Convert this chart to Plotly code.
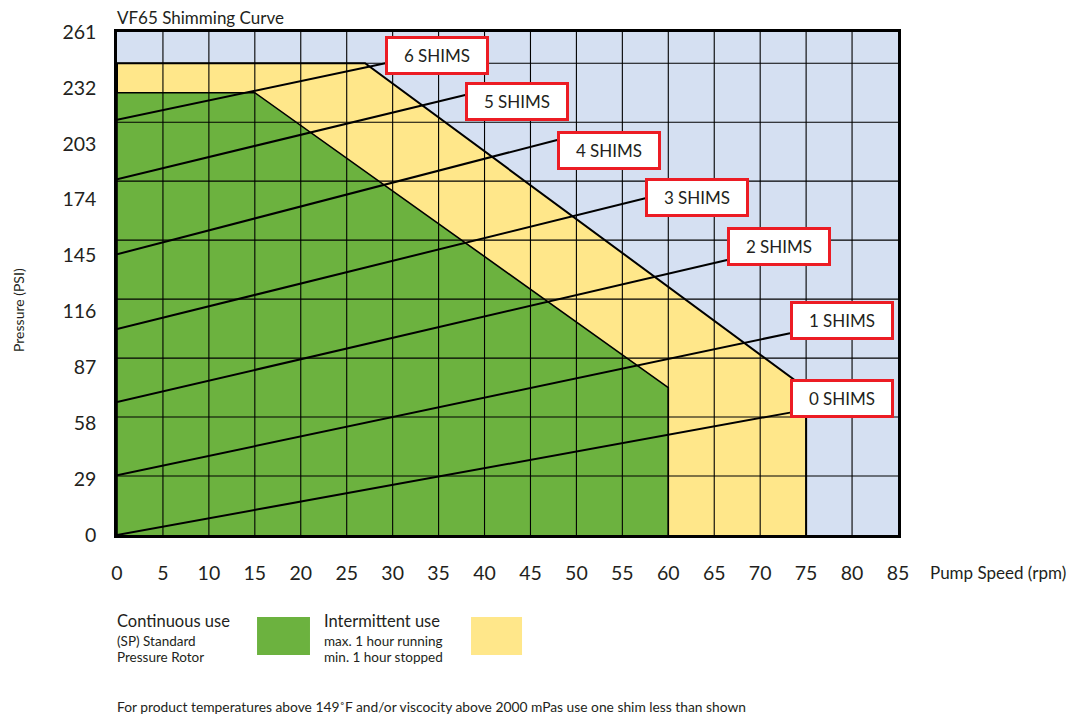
import plotly.graph_objects as go

# ---------------- data ----------------
x_ticks = [0, 5, 10, 15, 20, 25, 30, 35, 40, 45, 50, 55, 60, 65, 70, 75, 80, 85]
y_ticks = [0, 29, 58, 87, 116, 145, 174, 203, 232, 261]

# Continuous use (green) region outline: rpm / psi
green_rpm = [0, 0, 15, 60, 60]
green_psi = [0, 229.5, 229.5, 76.5, 0]

# Intermittent use (yellow) region outline
yellow_rpm = [0, 0, 27, 75, 75]
yellow_psi = [0, 244.8, 244.8, 76, 0]

# Shim lines: start pressure at 0 rpm and end point at label
shim_names = ["0 SHIMS", "1 SHIMS", "2 SHIMS", "3 SHIMS", "4 SHIMS", "5 SHIMS", "6 SHIMS"]
shim_start_psi = [0, 31.0, 69.0, 106.9, 145.7, 184.6, 215.4]
shim_end_rpm = [73.25, 73.25, 66.4, 57.5, 47.9, 37.9, 29.2]
shim_end_psi = [63.5, 104.7, 142.7, 174.7, 205.0, 228.3, 244.8]

# label box anchor positions (left edge x, centre y)
label_x = [73.25, 73.25, 66.4, 57.5, 47.9, 37.9, 29.2]
label_y = [70.9, 111.1, 149.7, 174.9, 199.5, 225.0, 248.7]

# ---------------- styles ----------------
FONT = "Lato"
TXT = "#231F20"
BLUE = "#D5E0F2"
GREEN = "#6CB23F"
YELLOW = "#FFE78A"
RED = "#EC1C24"
GRID_Y_STEP = 30.6
X_MAX, Y_MAX = 85, 261

fig = go.Figure()

# yellow region
fig.add_trace(go.Scatter(x=yellow_rpm, y=yellow_psi, fill="toself", fillcolor=YELLOW,
                         mode="lines", line=dict(color="black", width=2),
                         hoverinfo="skip", showlegend=False))
# green region
fig.add_trace(go.Scatter(x=green_rpm, y=green_psi, fill="toself", fillcolor=GREEN,
                         mode="lines", line=dict(color="black", width=1.6),
                         hoverinfo="skip", showlegend=False))

# grid lines drawn above the fills
shapes = []
for xv in x_ticks[1:-1]:
    shapes.append(dict(type="line", xref="x", yref="y", x0=xv, x1=xv, y0=0, y1=Y_MAX,
                       line=dict(color="black", width=1.1), layer="above"))
k = 1
while k * GRID_Y_STEP < Y_MAX - 5:
    shapes.append(dict(type="line", xref="x", yref="y", x0=0, x1=X_MAX,
                       y0=k * GRID_Y_STEP, y1=k * GRID_Y_STEP,
                       line=dict(color="black", width=1.1), layer="above"))
    k += 1

# shim lines
for i, name in enumerate(shim_names):
    fig.add_trace(go.Scatter(x=[0, shim_end_rpm[i]], y=[shim_start_psi[i], shim_end_psi[i]],
                             mode="lines", line=dict(color="black", width=2),
                             hoverinfo="skip", showlegend=False))

annotations = []
for i, name in enumerate(shim_names):
    annotations.append(dict(x=label_x[i], y=label_y[i], xref="x", yref="y",
                            text=name, showarrow=False, xanchor="left", yanchor="middle",
                            bgcolor="white", bordercolor=RED, borderwidth=3, borderpad=1,
                            width=96, height=31, align="center",
                            font=dict(family=FONT, size=17, color=TXT)))

def paper_text(x, y, text, size, xanchor="left", angle=0):
    annotations.append(dict(x=x, y=y, xref="paper", yref="paper", text=text,
                            showarrow=False, xanchor=xanchor, yanchor="middle",
                            textangle=angle, font=dict(family=FONT, size=size, color=TXT)))

paper_text(-0.003, 1.028, "VF65 Shimming Curve", 17)
paper_text(1.0385, -0.0755, "Pump Speed (rpm)", 17)
annotations.append(dict(x=-0.127, y=0.447, xref="paper", yref="paper", text="Pressure (PSI)",
                        showarrow=False, xanchor="center", yanchor="middle", textangle=-90,
                        font=dict(family=FONT, size=14, color=TXT)))

paper_text(-0.003, -0.171, "Continuous use", 16.5)
paper_text(-0.003, -0.2107, "(SP) Standard", 13.5)
paper_text(-0.003, -0.2425, "Pressure Rotor", 13.5)
paper_text(0.2625, -0.171, "Intermittent use", 16.5)
paper_text(0.2625, -0.2107, "max. 1 hour running", 13.5)
paper_text(0.2625, -0.2425, "min. 1 hour stopped", 13.5)
paper_text(-0.003, -0.3405, "For product temperatures above 149˚F and/or viscocity above 2000 mPas use one shim less than shown", 13.8)

shapes.append(dict(type="rect", xref="paper", yref="paper", x0=0.1793, x1=0.2471,
                   y0=-0.2386, y1=-0.163, fillcolor=GREEN, line=dict(width=0)))
shapes.append(dict(type="rect", xref="paper", yref="paper", x0=0.4533, x1=0.5186,
                   y0=-0.2386, y1=-0.163, fillcolor=YELLOW, line=dict(width=0)))

# page body has an 8px margin: shrink the figure so it lands where the reference is
fig.update_layout(
    width=1069, height=707,
    margin=dict(l=109, r=179, t=24, b=180),
    paper_bgcolor="white", plot_bgcolor=BLUE,
    shapes=shapes, annotations=annotations,
    font=dict(family=FONT, color=TXT),
    xaxis=dict(range=[0, X_MAX], tickvals=x_ticks, ticktext=[str(v) for v in x_ticks],
               showgrid=False, zeroline=False, showline=True, mirror=True,
               linecolor="black", linewidth=2.5, ticks="outside", ticklen=19,
               tickcolor="rgba(0,0,0,0)", tickfont=dict(family=FONT, size=19.5, color=TXT),
               fixedrange=True),
    yaxis=dict(range=[0, Y_MAX], tickvals=y_ticks, ticktext=[str(v) for v in y_ticks],
               showgrid=False, zeroline=False, showline=True, mirror=True,
               linecolor="black", linewidth=2.5, ticks="outside", ticklen=14,
               tickcolor="rgba(0,0,0,0)", tickfont=dict(family=FONT, size=19.5, color=TXT),
               fixedrange=True),
)

fig.write_html("out.html")
